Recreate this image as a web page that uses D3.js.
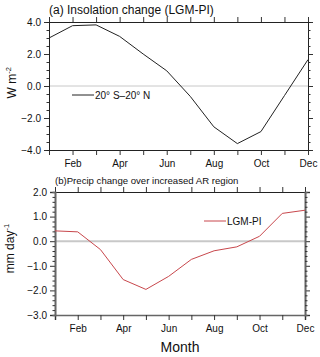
<!DOCTYPE html>
<html>
<head>
<meta charset="utf-8">
<script src="https://cdn.jsdelivr.net/npm/d3@7"></script>
<style>
  body { margin: 0; background: #fff; }
  svg { font-family: "Liberation Sans", Arial, sans-serif; }
</style>
</head>
<body>
<div id="chart"></div>
<script>
var months = [1, 2, 3, 4, 5, 6, 7, 8, 9, 10, 11, 12];
var month_labels = ["", "Feb", "", "Apr", "", "Jun", "", "Aug", "", "Oct", "", "Dec"];
var insolation = [3.0, 3.77, 3.82, 3.1, 2.0, 0.95, -0.65, -2.55, -3.6, -2.85, -0.6, 1.65];
var precip = [0.42, 0.38, -0.34, -1.56, -1.96, -1.43, -0.74, -0.39, -0.23, 0.2, 1.13, 1.26];
var insol_ticks = [-4, -2, 0, 2, 4];
var precip_ticks = [-3, -2, -1, 0, 1, 2];

var width = 320, height = 357;
var svg = d3.select("#chart").append("svg")
    .attr("width", width)
    .attr("height", height);

function draw_panel(opt) {
    var g = svg.append("g");
    var x = d3.scaleLinear().domain([1, 12]).range([opt.left, opt.right]);
    var y = d3.scaleLinear().domain(opt.ydomain).range([opt.bottom, opt.top]);

    // zero line
    g.append("line")
        .attr("x1", opt.left).attr("x2", opt.right)
        .attr("y1", y(0)).attr("y2", y(0))
        .attr("stroke", "#c8c8c8")
        .attr("stroke-width", opt.zero_w);

    // axes
    var bottom_axis = d3.axisBottom(x).tickValues(months)
        .tickFormat(function(d, i) { return month_labels[i]; })
        .tickSize(5).tickPadding(5);
    var top_axis = d3.axisTop(x).tickValues(months).tickFormat("").tickSize(5);
    var left_axis = d3.axisLeft(y).tickValues(opt.yticks)
        .tickFormat(d3.format(".1f")).tickSize(5).tickPadding(3);
    var right_axis = d3.axisRight(y).tickValues(opt.yticks).tickFormat("").tickSize(5);
    var minor = d3.range(opt.ydomain[0], opt.ydomain[1] + 0.001, opt.minor_step)
        .filter(function(v) { return opt.yticks.indexOf(+v.toFixed(2)) < 0; });

    var gb = g.append("g").attr("transform", "translate(0," + opt.bottom + ")").call(bottom_axis);
    var gt = g.append("g").attr("transform", "translate(0," + opt.top + ")").call(top_axis);
    var gl = g.append("g").attr("transform", "translate(" + opt.left + ",0)").call(left_axis);
    var gr = g.append("g").attr("transform", "translate(" + opt.right + ",0)").call(right_axis);
    g.append("g").attr("transform", "translate(" + opt.left + ",0)")
        .call(d3.axisLeft(y).tickValues(minor).tickFormat("").tickSize(2.5));
    g.append("g").attr("transform", "translate(" + opt.right + ",0)")
        .call(d3.axisRight(y).tickValues(minor).tickFormat("").tickSize(2.5));

    g.selectAll(".domain").attr("stroke", opt.frame).attr("stroke-width", opt.frame_w);
    gt.select(".domain").attr("stroke", "#222").attr("stroke-width", 1);
    g.selectAll(".tick line").attr("stroke", "#333");
    g.selectAll(".tick text").attr("font-size", 10).attr("fill", "#111")
        .attr("font-family", "'Liberation Sans', Arial, sans-serif");

    // data line
    var line = d3.line()
        .x(function(d, i) { return x(months[i]); })
        .y(function(d) { return y(d); });
    g.append("path")
        .datum(opt.values)
        .attr("d", line)
        .attr("fill", "none")
        .attr("stroke", opt.color)
        .attr("stroke-width", 1);

    // title
    g.append("text")
        .attr("x", opt.left)
        .attr("y", opt.top - 8)
        .attr("font-size", opt.title_size)
        .attr("fill", "#111")
        .text(opt.title);

    // legend
    g.append("line")
        .attr("x1", opt.leg_x).attr("x2", opt.leg_x + 22)
        .attr("y1", opt.leg_y).attr("y2", opt.leg_y)
        .attr("stroke", opt.color).attr("stroke-width", 1);
    g.append("text")
        .attr("x", opt.leg_x + 23)
        .attr("y", opt.leg_y + 3.5)
        .attr("font-size", 10)
        .attr("fill", "#111")
        .text(opt.legend);

    // y label
    var yl = g.append("text")
        .attr("transform", "translate(" + opt.ylab_x + "," + y(opt.ylab_at) + ") rotate(-90)")
        .attr("text-anchor", "middle")
        .attr("font-size", 12)
        .attr("fill", "#111");
    yl.append("tspan").text(opt.ylab);
    yl.append("tspan").attr("dy", -5).attr("font-size", 7.5).text(opt.ylab_sup);
    return g;
}

draw_panel({
    left: 49, right: 308, top: 22, bottom: 150,
    ydomain: [-4, 4], yticks: insol_ticks, minor_step: 0.5,
    values: insolation, color: "#222",
    frame: "#222", frame_w: 1, zero_w: 1,
    title: "(a) Insolation change (LGM-PI)", title_size: 12,
    legend: "20\u00b0 S\u201320\u00b0 N", leg_x: 72, leg_y: 95,
    ylab: "W m", ylab_sup: "-2", ylab_x: 16, ylab_at: 0.2
});

draw_panel({
    left: 55, right: 305, top: 192, bottom: 315,
    ydomain: [-3, 2], yticks: precip_ticks, minor_step: 0.2,
    values: precip, color: "#c8474c",
    frame: "#666", frame_w: 1.6, zero_w: 2,
    title: "(b)Precip change over increased AR region", title_size: 9.6,
    legend: "LGM-PI", leg_x: 204, leg_y: 221,
    ylab: "mm day", ylab_sup: "-1", ylab_x: 14, ylab_at: -0.3
});

svg.append("text")
    .attr("x", 180)
    .attr("y", 352)
    .attr("text-anchor", "middle")
    .attr("font-size", 14)
    .attr("fill", "#111")
    .text("Month");
</script>
</body>
</html>
